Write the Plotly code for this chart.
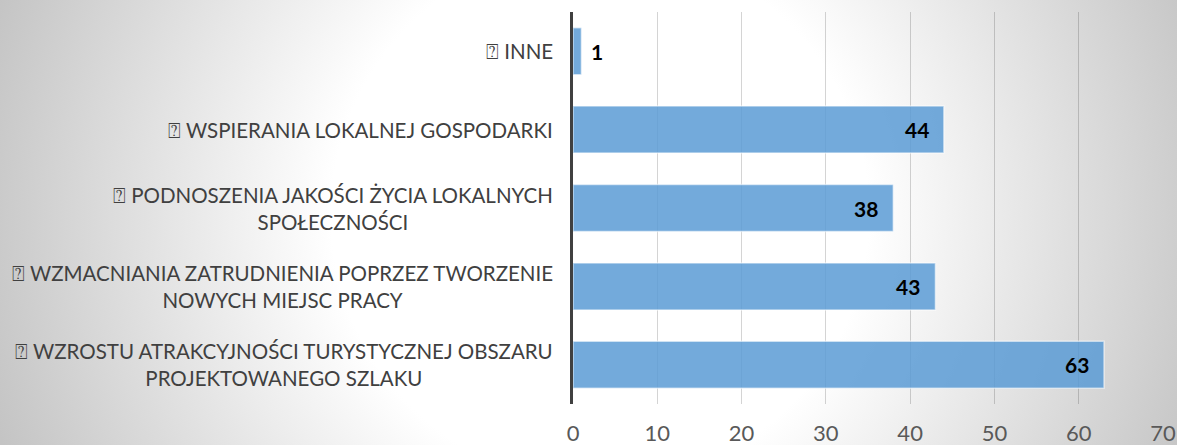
import base64
import plotly.graph_objects as go

categories = [
    "⍰ INNE",
    "⍰ WSPIERANIA LOKALNEJ GOSPODARKI",
    "⍰ PODNOSZENIA JAKOŚCI ŻYCIA LOKALNYCH<br>SPOŁECZNOŚCI",
    "⍰ WZMACNIANIA ZATRUDNIENIA POPRZEZ TWORZENIE<br>NOWYCH MIEJSC PRACY",
    "⍰ WZROSTU ATRAKCYJNOŚCI TURYSTYCZNEJ OBSZARU<br>PROJEKTOWANEGO SZLAKU",
]
values = [1, 44, 38, 43, 63]
tick_values = [0, 10, 20, 30, 40, 50, 60, 70]

W, H = 1177, 445
ML, MR, MT, MB = 573, 14, 12, 41
PW, PH = W - ML - MR, H - MT - MB

svg = f'''<svg xmlns="http://www.w3.org/2000/svg" width="{W}" height="{H}" viewBox="0 0 {W} {H}" preserveAspectRatio="none">
<defs><radialGradient id="g" gradientUnits="userSpaceOnUse" cx="600" cy="215" r="640">
<stop offset="0" stop-color="#ffffff"/><stop offset="0.42" stop-color="#ffffff"/>
<stop offset="1" stop-color="#c4c4c4"/></radialGradient></defs>
<rect x="0" y="0" width="{W}" height="{H}" fill="url(#g)"/></svg>'''
bg_uri = "data:image/svg+xml;base64," + base64.b64encode(svg.encode()).decode()

fig = go.Figure()
fig.add_trace(go.Bar(
    x=values, y=categories, orientation="h",
    marker=dict(color="rgba(91,155,213,0.85)",
                line=dict(color="rgba(255,255,255,0.55)", width=1.5)),
    width=0.6, hoverinfo="skip",
))

annotations = []
for c, v in zip(categories, values):
    annotations.append(dict(
        x=0, xref="paper", y=c, yref="y", text=c, showarrow=False,
        xanchor="right", yanchor="middle", align="center", xshift=-18,
        font=dict(family="Lato", size=20.5, color="#404040"),
    ))
    inside = v > 5
    annotations.append(dict(
        x=v, xref="x", y=c, yref="y", text=f"<b>{v}</b>", showarrow=False,
        xanchor="right" if inside else "left", yanchor="middle",
        xshift=-13 if inside else 8,
        font=dict(family="Lato", size=21, color="#000000"),
    ))

fig.update_layout(
    width=W, height=H,
    margin=dict(l=ML, r=MR, t=MT, b=MB, pad=0, autoexpand=False),
    paper_bgcolor="#ffffff", plot_bgcolor="rgba(0,0,0,0)",
    showlegend=False,
    images=[dict(source=bg_uri, xref="paper", yref="paper",
                 x=-ML / PW, y=1 + MT / PH, sizex=W / PW, sizey=H / PH,
                 xanchor="left", yanchor="top", sizing="stretch", layer="below")],
    xaxis=dict(range=[0, 70], tickvals=tick_values, showgrid=True,
               gridcolor="rgba(0,0,0,0.17)", gridwidth=1, zeroline=False,
               showline=False, ticks="outside", ticklen=10,
               tickcolor="rgba(0,0,0,0)", automargin=False,
               tickfont=dict(family="Lato", size=22, color="#595959")),
    yaxis=dict(autorange="reversed", showticklabels=False, showgrid=False,
               showline=True, linecolor="#404040", linewidth=3,
               zeroline=False, ticks="", automargin=False),
    annotations=annotations,
    bargap=0.4,
)

fig.write_html("out.html", config={"displayModeBar": False, "staticPlot": True},
               post_script="document.body.style.margin='0';document.body.style.overflow='hidden';")
